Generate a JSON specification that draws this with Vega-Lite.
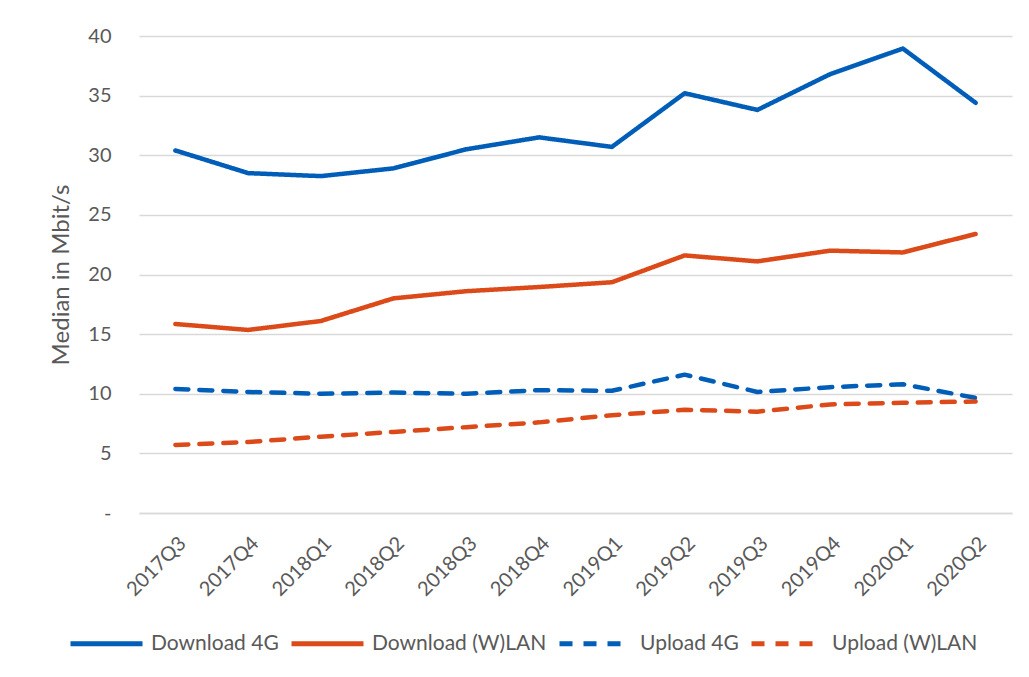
{
  "$schema": "https://vega.github.io/schema/vega-lite/v6.json",
  "width": 873,
  "height": 477,
  "autosize": {"type": "none"},
  "padding": {"left": 139, "top": 36, "right": 17, "bottom": 164},
  "background": "white",
  "config": {
    "view": {"stroke": null},
    "font": "Lato",
    "axis": {"labelFont": "Lato", "titleFont": "Lato", "labelColor": "#595959", "titleColor": "#595959"}
  },
  "data": {
    "values": [
      {"q": "2017Q3", "s": "Download 4G", "v": 30.4},
      {"q": "2017Q4", "s": "Download 4G", "v": 28.5},
      {"q": "2018Q1", "s": "Download 4G", "v": 28.25},
      {"q": "2018Q2", "s": "Download 4G", "v": 28.9},
      {"q": "2018Q3", "s": "Download 4G", "v": 30.5},
      {"q": "2018Q4", "s": "Download 4G", "v": 31.5},
      {"q": "2019Q1", "s": "Download 4G", "v": 30.7},
      {"q": "2019Q2", "s": "Download 4G", "v": 35.2},
      {"q": "2019Q3", "s": "Download 4G", "v": 33.8},
      {"q": "2019Q4", "s": "Download 4G", "v": 36.8},
      {"q": "2020Q1", "s": "Download 4G", "v": 38.95},
      {"q": "2020Q2", "s": "Download 4G", "v": 34.4},
      {"q": "2017Q3", "s": "Download (W)LAN", "v": 15.85},
      {"q": "2017Q4", "s": "Download (W)LAN", "v": 15.35},
      {"q": "2018Q1", "s": "Download (W)LAN", "v": 16.1},
      {"q": "2018Q2", "s": "Download (W)LAN", "v": 18.0},
      {"q": "2018Q3", "s": "Download (W)LAN", "v": 18.6},
      {"q": "2018Q4", "s": "Download (W)LAN", "v": 18.95},
      {"q": "2019Q1", "s": "Download (W)LAN", "v": 19.35},
      {"q": "2019Q2", "s": "Download (W)LAN", "v": 21.6},
      {"q": "2019Q3", "s": "Download (W)LAN", "v": 21.1},
      {"q": "2019Q4", "s": "Download (W)LAN", "v": 22.0},
      {"q": "2020Q1", "s": "Download (W)LAN", "v": 21.85},
      {"q": "2020Q2", "s": "Download (W)LAN", "v": 23.4},
      {"q": "2017Q3", "s": "Upload 4G", "v": 10.4},
      {"q": "2017Q4", "s": "Upload 4G", "v": 10.15},
      {"q": "2018Q1", "s": "Upload 4G", "v": 10.0},
      {"q": "2018Q2", "s": "Upload 4G", "v": 10.1},
      {"q": "2018Q3", "s": "Upload 4G", "v": 10.0},
      {"q": "2018Q4", "s": "Upload 4G", "v": 10.3},
      {"q": "2019Q1", "s": "Upload 4G", "v": 10.25},
      {"q": "2019Q2", "s": "Upload 4G", "v": 11.6},
      {"q": "2019Q3", "s": "Upload 4G", "v": 10.15},
      {"q": "2019Q4", "s": "Upload 4G", "v": 10.55},
      {"q": "2020Q1", "s": "Upload 4G", "v": 10.8},
      {"q": "2020Q2", "s": "Upload 4G", "v": 9.65},
      {"q": "2017Q3", "s": "Upload (W)LAN", "v": 5.7},
      {"q": "2017Q4", "s": "Upload (W)LAN", "v": 5.95},
      {"q": "2018Q1", "s": "Upload (W)LAN", "v": 6.4},
      {"q": "2018Q2", "s": "Upload (W)LAN", "v": 6.8},
      {"q": "2018Q3", "s": "Upload (W)LAN", "v": 7.2},
      {"q": "2018Q4", "s": "Upload (W)LAN", "v": 7.6},
      {"q": "2019Q1", "s": "Upload (W)LAN", "v": 8.2},
      {"q": "2019Q2", "s": "Upload (W)LAN", "v": 8.65},
      {"q": "2019Q3", "s": "Upload (W)LAN", "v": 8.5},
      {"q": "2019Q4", "s": "Upload (W)LAN", "v": 9.1},
      {"q": "2020Q1", "s": "Upload (W)LAN", "v": 9.25},
      {"q": "2020Q2", "s": "Upload (W)LAN", "v": 9.35}
    ]
  },
  "mark": {"type": "line", "strokeWidth": 4.5, "strokeCap": "round", "strokeJoin": "round"},
  "encoding": {
    "x": {
      "field": "q", "type": "ordinal", "sort": null,
      "scale": {"type": "point", "padding": 0.5},
      "axis": {
        "title": null, "labelAngle": -45, "labelFontSize": 20, "labelPadding": 20,
        "ticks": false, "domain": true, "domainColor": "#D9D9D9", "domainWidth": 1.5, "grid": false
      }
    },
    "y": {
      "field": "v", "type": "quantitative",
      "scale": {"domain": [0, 40], "nice": false},
      "axis": {
        "title": "Median in Mbit/s", "titleFontSize": 24, "titleFontWeight": "normal", "titlePadding": 14,
        "values": [0, 5, 10, 15, 20, 25, 30, 35, 40],
        "labelExpr": "datum.value == 0 ? '-' : datum.label",
        "labelFontSize": 20, "labelPadding": 28, "ticks": false, "domain": false,
        "gridColor": "#D9D9D9", "gridWidth": 1.5
      }
    },
    "color": {
      "field": "s", "type": "nominal",
      "scale": {
        "domain": ["Download 4G", "Download (W)LAN", "Upload 4G", "Upload (W)LAN"],
        "range": ["#005EB8", "#DC4A1A", "#005EB8", "#DC4A1A"]
      },
      "legend": {
        "title": null, "orient": "none", "legendX": -71, "legendY": 569,
        "direction": "horizontal", "columns": 4,
        "symbolType": "stroke", "symbolSize": 5184, "symbolStrokeWidth": 5,
        "labelFontSize": 21, "labelColor": "#595959", "labelFont": "Lato",
        "labelOffset": 6, "columnPadding": 2, "labelLimit": 300
      }
    },
    "strokeDash": {
      "field": "s", "type": "nominal",
      "scale": {
        "domain": ["Download 4G", "Download (W)LAN", "Upload 4G", "Upload (W)LAN"],
        "range": [[1, 0], [1, 0], [13, 11], [13, 11]]
      },
      "legend": {
        "title": null, "orient": "none", "legendX": -71, "legendY": 569,
        "direction": "horizontal", "columns": 4,
        "symbolType": "stroke", "symbolSize": 5184, "symbolStrokeWidth": 5,
        "labelFontSize": 21, "labelColor": "#595959", "labelFont": "Lato",
        "labelOffset": 6, "columnPadding": 2, "labelLimit": 300
      }
    }
  }
}
